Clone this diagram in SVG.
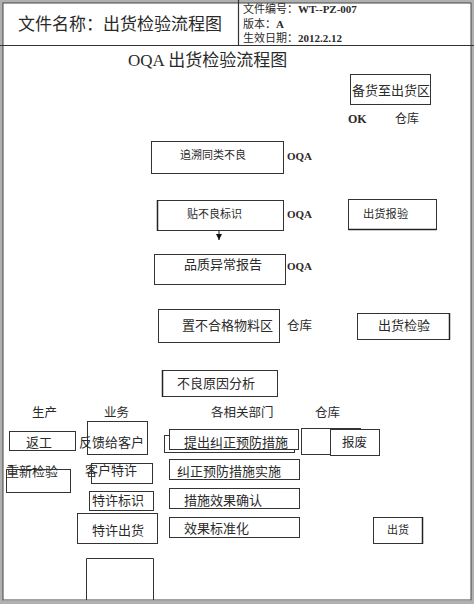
<svg xmlns="http://www.w3.org/2000/svg" width="474" height="604" viewBox="0 0 474 604">
<style>
text{font-family:"Liberation Serif","Noto Sans CJK SC",serif;fill:#2a2a2a}
.b{fill:none;stroke:#333;stroke-width:1}
.w{fill:#fff;stroke:#333;stroke-width:1}
.t13{font-size:13px}
.t11{font-size:11px}
.t12{font-size:12px}
.lat{font-weight:bold;font-size:11px}
</style>
<defs>
<marker id="ah" viewBox="0 0 8 8" refX="8" refY="4" markerWidth="6" markerHeight="6" orient="auto" markerUnits="userSpaceOnUse">
<path d="M0,0 L8,4 L0,8 Z" fill="#111"/>
</marker>
</defs>
<rect x="0" y="0" width="474" height="604" fill="#fff"/>
<g id="frame">
<rect x="1.5" y="1.5" width="471" height="601" fill="none" stroke="#b0b0b0" stroke-width="3"/>
<rect x="3" y="3" width="468" height="597" fill="none" stroke="#444" stroke-width="1"/>
<line x1="0" y1="45.5" x2="474" y2="45.5" stroke="#333" stroke-width="1.2"/>
<line x1="238.5" y1="0" x2="238.5" y2="45" stroke="#333" stroke-width="1.2"/>
</g>
<g id="header">
<text x="18" y="30" style="font-size:17px">文件名称：出货检验流程图</text>
<text x="243" y="13" class="t11">文件编号：<tspan class="lat">WT--PZ-007</tspan></text>
<text x="243" y="28" class="t11">版本：<tspan class="lat">A</tspan></text>
<text x="243" y="42" class="t11">生效日期：<tspan class="lat">2012.2.12</tspan></text>
<text x="128" y="66" style="font-size:17px">OQA 出货检验流程图</text>
</g>
<g id="connectors">
<line x1="219" y1="230" x2="219" y2="240" stroke="#111" stroke-width="1" marker-end="url(#ah)"/>
</g>
<g id="n-beihuo">
<rect x="350.5" y="74.5" width="80" height="30" class="b"/>
<text x="352" y="95" class="t13">备货至出货区</text>
</g>
<g id="l-ok">
<text x="348" y="123" style="font-size:12px;font-weight:bold">OK</text>
<text x="395" y="123" class="t12">仓库</text>
</g>
<g id="n-zhuisu">
<rect x="151.5" y="141.5" width="132" height="32" class="b"/>
<text x="180" y="159" class="t11">追溯同类不良</text>
<text x="287" y="160" class="lat">OQA</text>
</g>
<g id="n-tie">
<rect x="157.5" y="200.5" width="126" height="30" class="b"/>
<line x1="157.5" y1="200" x2="157.5" y2="231" stroke="#222" stroke-width="1.5"/>
<text x="187" y="218" class="t11">贴不良标识</text>
<text x="287" y="218" class="lat">OQA</text>
</g>
<g id="n-baoyan">
<rect x="348.5" y="199.5" width="88" height="30" class="b"/>
<line x1="348.5" y1="229.5" x2="436.5" y2="229.5" stroke="#222" stroke-width="1.5"/>
<text x="363" y="218" class="t11" style="font-size:11.3px">出货报验</text>
</g>
<g id="n-pinzhi">
<rect x="154.5" y="254.5" width="131" height="30" class="b"/>
<text x="184" y="269" class="t13">品质异常报告</text>
<text x="287" y="270" class="lat">OQA</text>
</g>
<g id="n-zhi">
<rect x="158.5" y="309.5" width="121" height="33" class="b"/>
<text x="182" y="330" class="t13">置不合格物料区</text>
<text x="287" y="330" class="t12" style="font-size:12.5px">仓库</text>
</g>
<g id="n-jianyan">
<rect x="357.5" y="313.5" width="92" height="26" class="b"/>
<line x1="449.5" y1="313" x2="449.5" y2="340" stroke="#222" stroke-width="1.5"/>
<text x="378" y="330" class="t13">出货检验</text>
</g>
<g id="n-yuanyin">
<rect x="162.5" y="370.5" width="115" height="26" class="b"/>
<line x1="162.5" y1="370" x2="162.5" y2="397" stroke="#222" stroke-width="1.5"/>
<text x="177" y="388" class="t13">不良原因分析</text>
</g>
<g id="heads">
<text x="32" y="417" class="t12" style="font-size:12.5px">生产</text>
<text x="104" y="417" class="t12" style="font-size:12.5px">业务</text>
<text x="211" y="417" class="t12" style="font-size:12.5px">各相关部门</text>
<text x="315" y="417" class="t12" style="font-size:12.5px">仓库</text>
</g>
<g id="n-fangong">
<rect x="9.5" y="431.5" width="66" height="19" class="b"/>
<text x="26" y="447" class="t13">返工</text>
</g>
<g id="n-fankui">
<rect x="87.5" y="421.5" width="60" height="33" class="b"/>
<text x="79" y="447" class="t13">反馈给客户</text>
</g>
<g id="n-tichu">
<rect x="164.5" y="435.5" width="130" height="17" class="b"/>
<rect x="169.5" y="429.5" width="129" height="20" class="w"/>
<text x="184" y="447" class="t13">提出纠正预防措施</text>
</g>
<g id="n-baofei">
<rect x="301.5" y="428.5" width="59" height="26" class="b"/>
<rect x="330.5" y="429.5" width="49" height="26" class="w"/>
<text x="342" y="447" class="t12" style="font-size:12.5px">报废</text>
</g>
<g id="n-chongxin">
<text x="6" y="476" class="t13">重新检验</text>
<rect x="6.5" y="469.5" width="64" height="23" class="b"/>
</g>
<g id="n-kehu">
<text x="85" y="475" class="t13">客户特许</text>
<rect x="91.5" y="463.5" width="61" height="20" class="b"/>
</g>
<g id="n-shishi">
<rect x="169.5" y="459.5" width="130" height="20" class="b"/>
<text x="177" y="476" class="t13">纠正预防措施实施</text>
</g>
<g id="n-biaozhi">
<rect x="89.5" y="491.5" width="64" height="19" class="b"/>
<text x="92" y="505" class="t13">特许标识</text>
</g>
<g id="n-queren">
<rect x="169.5" y="488.5" width="130" height="20" class="b"/>
<text x="184" y="505" class="t13">措施效果确认</text>
</g>
<g id="n-texu">
<rect x="77.5" y="513.5" width="80" height="30" class="b"/>
<text x="92" y="535" class="t13">特许出货</text>
</g>
<g id="n-biaozhun">
<rect x="169.5" y="517.5" width="130" height="20" class="b"/>
<text x="184" y="533" class="t13">效果标准化</text>
</g>
<g id="n-chuhuo">
<rect x="373.5" y="517.5" width="49" height="26" class="b"/>
<line x1="422.5" y1="517" x2="422.5" y2="544" stroke="#222" stroke-width="1.5"/>
<text x="387" y="534" class="t11">出货</text>
</g>
<g id="n-empty">
<path d="M86.5,600 V558.5 H153.5 V600" class="b"/>
</g>
</svg>
